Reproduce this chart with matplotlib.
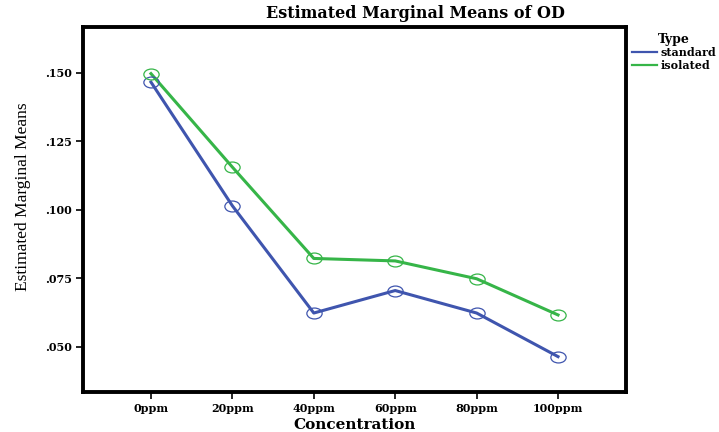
import matplotlib.pyplot as plt
import numpy as np
from matplotlib.path import Path
from matplotlib.transforms import Affine2D

concentrations = ['0ppm', '20ppm', '40ppm', '60ppm', '80ppm', '100ppm']
standard = [0.1465, 0.1014, 0.0623, 0.0705, 0.0623, 0.0464]
isolated = [0.1496, 0.1155, 0.0822, 0.0813, 0.0748, 0.0616]
y_ticks = [0.050, 0.075, 0.100, 0.125, 0.150]
y_tick_labels = ['.050', '.075', '.100', '.125', '.150']

blue = '#3f55ae'
green = '#36b548'
bold_font = {'family': 'DejaVu Serif', 'weight': 'bold'}

# open ellipse marker, like the SPSS output
ellipse = Path.unit_circle().transformed(Affine2D().scale(1.4, 1.0))

fig = plt.figure(figsize=(7.19, 4.32), dpi=100)
ax = fig.add_axes([83 / 719, 1 - 392 / 432, 543 / 719, 365 / 432])

x = np.arange(len(concentrations))
ax.plot(x, standard, '-', color=blue, lw=2.2, label='standard')
ax.plot(x, isolated, '-', color=green, lw=2.2, label='isolated')
ax.plot(x, standard, ls='none', marker=ellipse, ms=11, mfc='none', mec=blue, mew=0.9)
ax.plot(x, isolated, ls='none', marker=ellipse, ms=11, mfc='none', mec=green, mew=0.9)

ax.set_xlim(-0.835, 5.835)
ax.set_ylim(0.0335, 0.1666)
ax.set_xticks(x)
ax.set_xticklabels(concentrations, fontdict=bold_font, fontsize=8)
ax.set_yticks(y_ticks)
ax.set_yticklabels(y_tick_labels, fontdict=bold_font, fontsize=8)
ax.tick_params(direction='out', length=5, width=1.2, pad=3)

for s in ax.spines.values():
    s.set_linewidth(2.8)

ax.set_xlabel('Concentration', fontdict=bold_font, fontsize=11, labelpad=3)
ax.set_ylabel('Estimated Marginal Means', family='Liberation Serif', fontsize=12.5)
ax.yaxis.set_label_coords(-0.096, 0.535)

fig.text(415 / 719, 1 - 14 / 432, 'Estimated Marginal Means of OD',
         ha='center', va='center', fontsize=11.5, **bold_font)

leg = ax.legend(loc='upper left', bbox_to_anchor=(1.0, 1.0), frameon=False,
                title='Type', handlelength=2.3, handletextpad=0.3,
                labelspacing=0.15, borderaxespad=0.1,
                prop={'family': 'DejaVu Serif', 'weight': 'bold', 'size': 8})
leg.get_title().set_fontproperties({'family': 'DejaVu Serif', 'weight': 'bold', 'size': 9})
for line in leg.get_lines():
    line.set_linewidth(1.6)

fig.savefig('out.png', dpi=100)
